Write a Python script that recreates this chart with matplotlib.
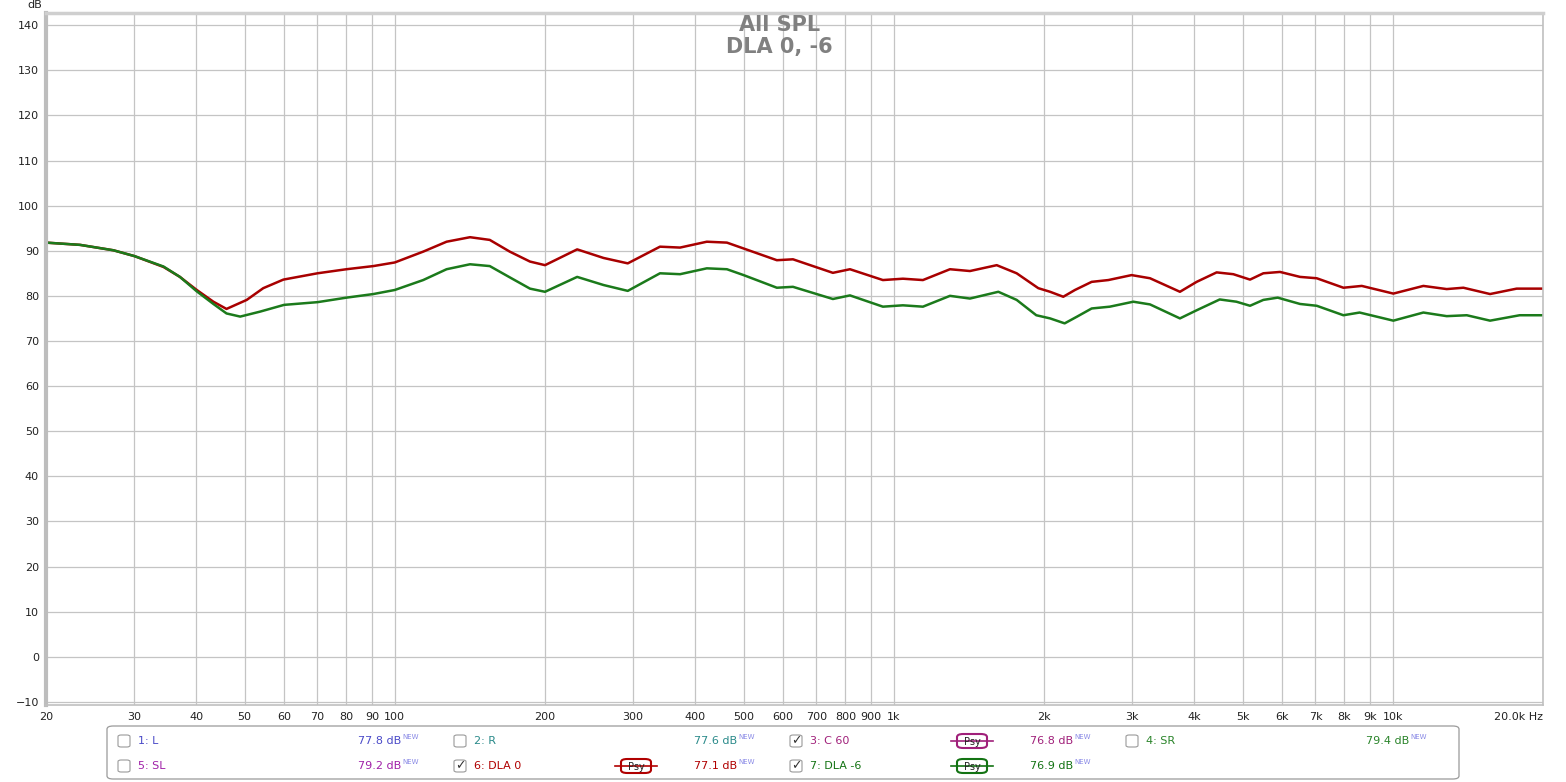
import matplotlib
matplotlib.use("Agg")
import matplotlib.pyplot as plt
from matplotlib.patches import FancyBboxPatch
from matplotlib.lines import Line2D

# frequency response readings (Hz, dB)
red_freq = [20, 23.4, 27.3, 30.1, 34.4, 37.1, 40.1, 43.3, 46.0, 50.5, 54.5, 59.8, 70, 80, 90.6,
            100, 114, 127, 141.5, 155, 170, 186.6, 200, 232, 262, 293, 340, 373, 422, 463,
            500, 583, 628, 755, 817, 951, 1043, 1144, 1296, 1421, 1608, 1763, 1948, 2057,
            2186, 2307, 2492, 2691, 2996, 3262, 3745, 4045, 4436, 4791, 5175, 5503, 5943,
            6518, 7040, 7962, 8667, 10025, 11515, 12825, 13850, 15665, 17710, 20000]
red_db = [91.8, 91.3, 90.1, 88.8, 86.4, 84.2, 81.3, 78.7, 77.1, 79.1, 81.7, 83.6, 85.0, 85.9, 86.6,
          87.4, 89.8, 92.0, 93.0, 92.4, 89.8, 87.6, 86.8, 90.3, 88.4, 87.2, 90.9, 90.7, 92.0, 91.8,
          90.5, 87.9, 88.1, 85.1, 85.9, 83.5, 83.8, 83.5, 85.9, 85.5, 86.8, 85.0, 81.7, 80.9,
          79.8, 81.3, 83.1, 83.5, 84.6, 83.9, 80.9, 83.1, 85.2, 84.8, 83.6, 85.0, 85.3,
          84.2, 83.9, 81.8, 82.2, 80.5, 82.2, 81.5, 81.8, 80.4, 81.6, 81.6]

green_freq = [20, 23.4, 27.3, 30.1, 34.4, 37.1, 40.1, 43.3, 46.0, 49, 53.7, 60, 70, 80, 90.6,
              100, 114, 127, 141.5, 155, 170, 186.6, 200, 232, 262, 293, 340, 373, 422, 463,
              500, 583, 628, 755, 817, 951, 1043, 1144, 1296, 1421, 1620, 1763, 1930, 2057,
              2200, 2330, 2492, 2710, 3020, 3262, 3745, 4045, 4500, 4860, 5175, 5503, 5880,
              6518, 7040, 7962, 8580, 10025, 11515, 12825, 14070, 15665, 17960, 20000]
green_db = [91.8, 91.3, 90.1, 88.8, 86.5, 84.2, 81.0, 78.2, 76.1, 75.4, 76.5, 78.0, 78.6, 79.6, 80.4,
            81.3, 83.5, 85.9, 87.0, 86.6, 84.1, 81.6, 80.9, 84.2, 82.4, 81.1, 85.0, 84.8, 86.1, 85.9,
            84.6, 81.8, 82.0, 79.3, 80.1, 77.6, 77.9, 77.6, 80.0, 79.4, 80.9, 79.1, 75.7, 75.0,
            73.9, 75.4, 77.2, 77.6, 78.7, 78.1, 75.0, 76.8, 79.2, 78.7, 77.8, 79.1, 79.6,
            78.2, 77.8, 75.7, 76.3, 74.5, 76.3, 75.5, 75.7, 74.5, 75.7, 75.7]

x_ticks = [20, 30, 40, 50, 60, 70, 80, 90, 100, 200, 300, 400, 500, 600, 700, 800, 900,
           1000, 2000, 3000, 4000, 5000, 6000, 7000, 8000, 9000, 10000, 20000]
x_labels = ["20", "30", "40", "50", "60", "70", "80", "90", "100", "200", "300", "400", "500",
            "600", "700", "800", "900", "1k", "2k", "3k", "4k", "5k", "6k", "7k", "8k", "9k",
            "10k", "20.0k Hz"]
y_ticks = list(range(-10, 150, 10))

# legend entries
legend_names = ["1: L", "2: R", "3: C 60", "4: SR", "5: SL", "6: DLA 0", "7: DLA -6"]
legend_colors = ["#4a4ac8", "#2a8a8a", "#a0207a", "#2a842a", "#a020a8", "#b00000", "#137313"]
legend_levels = ["77.8 dB", "77.6 dB", "76.8 dB", "79.4 dB", "79.2 dB", "77.1 dB", "76.9 dB"]
legend_checked = [False, False, True, False, False, True, True]

W, H = 1566, 782
fig = plt.figure(figsize=(W / 100, H / 100), dpi=100)
ax = fig.add_axes([46 / W, 1 - 705 / H, (1543 - 46) / W, (705 - 13) / H])

ax.plot(red_freq, red_db, color="#a80000", lw=1.8, solid_joinstyle="round", solid_capstyle="round")
ax.plot(green_freq, green_db, color="#1b7a1b", lw=1.8, solid_joinstyle="round", solid_capstyle="round")

ax.set_xscale("log")
ax.set_xlim(20, 20000)
ax.set_ylim(-10.7, 142.7)
ax.set_xticks(x_ticks)
ax.set_xticklabels(x_labels)
ax.xaxis.set_minor_locator(matplotlib.ticker.NullLocator())
ax.set_yticks(y_ticks)
ax.tick_params(length=0, labelsize=8, colors="#222222", pad=5)
ax.grid(True, color="#c4c4c4", lw=0.9)
ax.set_axisbelow(True)
for s in ax.spines.values():
    s.set_color("#c0c0c0")
    s.set_linewidth(1.2)
ax.spines["left"].set_linewidth(3)
ax.spines["top"].set_linewidth(2.5)
ax.spines["left"].set_color("#bdbdbd")
ax.spines["top"].set_color("#cfcfcf")

for lab in ax.get_xticklabels():
    if lab.get_text().startswith("20.0k"):
        lab.set_horizontalalignment("right")

fig.text(35 / W, 1 - 5 / H, "dB", fontsize=8, color="#222222", ha="center", va="center")
ax.text(0.49, 0.983, "All SPL", transform=ax.transAxes, ha="center", va="center",
        fontsize=15, color="#808080", fontweight="bold")
ax.text(0.49, 0.951, "DLA 0, -6", transform=ax.transAxes, ha="center", va="center",
        fontsize=15, color="#808080", fontweight="bold")


def fx(x):
    return x / W


def fy(y):
    return 1 - y / H


# legend panel
fig.patches.append(FancyBboxPatch((fx(107), fy(779)), fx(1459 - 107), (779 - 726) / H,
                                  boxstyle="round,pad=0,rounding_size=0.004",
                                  transform=fig.transFigure, fc="white", ec="#9a9a9a", lw=0.9))

for i, name in enumerate(legend_names):
    row, col = divmod(i, 4)
    y = 741 + row * 25
    x0 = 118 + col * 336
    c = legend_colors[i]
    fig.patches.append(FancyBboxPatch((fx(x0), fy(y + 6)), 12 / W, 12 / H,
                                      boxstyle="round,pad=0,rounding_size=0.002",
                                      transform=fig.transFigure, fc="white", ec="#9a9a9a", lw=0.8))
    if legend_checked[i]:
        fig.text(fx(x0 + 6), fy(y), "\u2713", fontsize=9, color="#333333",
                 ha="center", va="center")
    fig.text(fx(x0 + 20), fy(y), name, fontsize=8, color=c, ha="left", va="center")
    fig.text(fx(x0 + 283), fy(y), legend_levels[i], fontsize=8, color=c, ha="right", va="center")
    fig.text(fx(x0 + 284), fy(y - 4), "NEW", fontsize=5, color="#8a8ae6", ha="left", va="center")
    if legend_checked[i]:
        cx = x0 + 182
        fig.lines.append(Line2D([fx(cx - 21), fx(cx + 21)], [fy(y), fy(y)], color=c, lw=1.2,
                                transform=fig.transFigure))
        fig.patches.append(FancyBboxPatch((fx(cx - 15), fy(y + 7)), 30 / W, 14 / H,
                                          boxstyle="round,pad=0,rounding_size=0.004",
                                          transform=fig.transFigure, fc="white", ec=c, lw=1.5))
        fig.text(fx(cx), fy(y + 1), "Psy", fontsize=7, color="#222222", ha="center", va="center")

fig.savefig("out.png", dpi=100, facecolor="white")
